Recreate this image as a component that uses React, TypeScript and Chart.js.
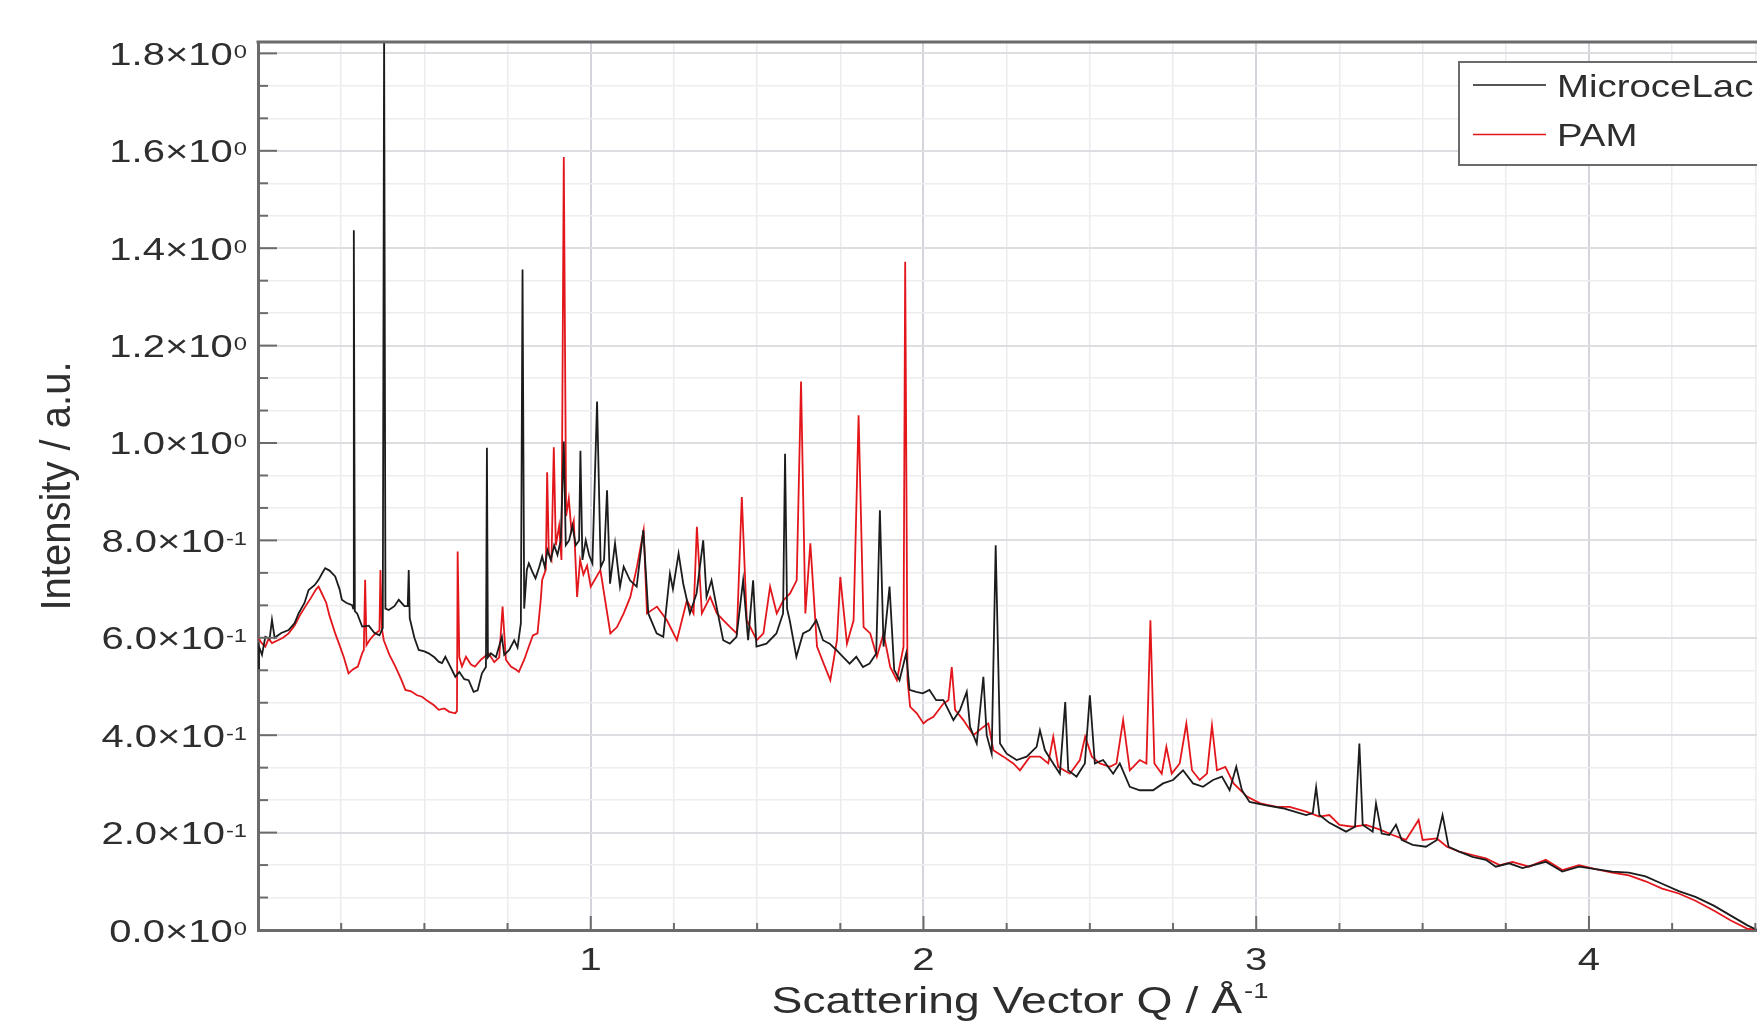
import React, { useEffect, useRef } from 'react';
import { Chart, registerables } from 'chart.js';

Chart.register(...registerables);

// ---------------- data ----------------
const seriesNames = ['MicroceLac', 'PAM'];

const microQ = [
  0.000, 0.003, 0.012, 0.022, 0.035, 0.042, 0.050, 0.070, 0.092, 0.110, 0.122, 0.140, 0.152, 0.170, 0.182, 0.195,
  0.202, 0.215, 0.232, 0.245, 0.252, 0.265, 0.283, 0.286, 0.288, 0.291, 0.298, 0.313, 0.333, 0.350, 0.365, 0.375,
  0.379, 0.383, 0.393, 0.410, 0.423, 0.440, 0.450, 0.453, 0.456, 0.470, 0.483, 0.500, 0.513, 0.530, 0.543, 0.553,
  0.563, 0.575, 0.593, 0.605, 0.620, 0.633, 0.648, 0.660, 0.673, 0.685, 0.688, 0.691, 0.700, 0.715, 0.733, 0.740,
  0.755, 0.770, 0.780, 0.790, 0.795, 0.800, 0.808, 0.814, 0.825, 0.834, 0.845, 0.854, 0.862, 0.870, 0.880, 0.890,
  0.900, 0.910, 0.919, 0.925, 0.935, 0.945, 0.955, 0.965, 0.969, 0.975, 0.985, 0.995, 1.005, 1.019, 1.030, 1.040,
  1.049, 1.058, 1.073, 1.088, 1.099, 1.118, 1.138, 1.158, 1.173, 1.198, 1.218, 1.238, 1.247, 1.264, 1.278, 1.298,
  1.318, 1.338, 1.348, 1.363, 1.378, 1.398, 1.418, 1.438, 1.458, 1.473, 1.488, 1.498, 1.528, 1.558, 1.578, 1.584,
  1.590, 1.598, 1.618, 1.638, 1.658, 1.678, 1.698, 1.718, 1.738, 1.758, 1.778, 1.798, 1.818, 1.838, 1.858, 1.869,
  1.880, 1.898, 1.912, 1.928, 1.948, 1.958, 1.978, 1.998, 2.018, 2.038, 2.060, 2.090, 2.110, 2.130, 2.140, 2.160,
  2.180, 2.190, 2.205, 2.217, 2.230, 2.250, 2.280, 2.310, 2.340, 2.350, 2.365, 2.390, 2.410, 2.426, 2.435, 2.460,
  2.485, 2.500, 2.515, 2.540, 2.570, 2.590, 2.620, 2.650, 2.690, 2.720, 2.750, 2.780, 2.810, 2.840, 2.870, 2.897,
  2.920, 2.940, 2.957, 2.980, 3.030, 3.080, 3.100, 3.150, 3.170, 3.180, 3.190, 3.220, 3.270, 3.297, 3.310, 3.320,
  3.350, 3.360, 3.377, 3.400, 3.420, 3.437, 3.470, 3.510, 3.543, 3.560, 3.578, 3.610, 3.650, 3.690, 3.720, 3.760,
  3.800, 3.870, 3.920, 3.970, 4.020, 4.070, 4.120, 4.170, 4.220, 4.270, 4.320, 4.375, 4.425, 4.475, 4.505,
];
const microI = [
  0.534, 0.582, 0.565, 0.602, 0.598, 0.637, 0.600, 0.610, 0.616, 0.630, 0.650, 0.672, 0.698, 0.708, 0.719, 0.735,
  0.743, 0.738, 0.726, 0.700, 0.678, 0.672, 0.667, 0.660, 1.437, 0.655, 0.650, 0.623, 0.625, 0.610, 0.605, 0.620,
  1.850, 0.660, 0.657, 0.665, 0.678, 0.665, 0.665, 0.739, 0.640, 0.600, 0.575, 0.572, 0.568, 0.560, 0.551, 0.548,
  0.561, 0.545, 0.520, 0.530, 0.515, 0.513, 0.489, 0.492, 0.527, 0.540, 0.990, 0.560, 0.568, 0.560, 0.602, 0.565,
  0.575, 0.595, 0.580, 0.630, 1.356, 0.660, 0.740, 0.753, 0.735, 0.722, 0.745, 0.767, 0.745, 0.780, 0.760, 0.790,
  0.770, 0.800, 1.003, 0.790, 0.800, 0.830, 0.790, 0.800, 0.984, 0.760, 0.800, 0.770, 0.753, 1.085, 0.745, 0.760,
  0.903, 0.711, 0.794, 0.705, 0.746, 0.718, 0.705, 0.821, 0.650, 0.609, 0.602, 0.732, 0.700, 0.773, 0.711, 0.650,
  0.691, 0.800, 0.684, 0.718, 0.664, 0.595, 0.588, 0.602, 0.718, 0.595, 0.718, 0.582, 0.588, 0.609, 0.650, 0.978,
  0.660, 0.636, 0.561, 0.609, 0.616, 0.636, 0.595, 0.588, 0.575, 0.561, 0.547, 0.561, 0.540, 0.547, 0.568, 0.862,
  0.582, 0.705, 0.534, 0.513, 0.568, 0.493, 0.489, 0.486, 0.493, 0.472, 0.472, 0.431, 0.452, 0.489, 0.417, 0.383,
  0.520, 0.400, 0.362, 0.790, 0.383, 0.362, 0.349, 0.356, 0.376, 0.410, 0.369, 0.342, 0.321, 0.468, 0.328, 0.315,
  0.342, 0.482, 0.342, 0.349, 0.321, 0.342, 0.294, 0.287, 0.287, 0.301, 0.308, 0.328, 0.301, 0.294, 0.308, 0.315,
  0.287, 0.335, 0.287, 0.263, 0.256, 0.250, 0.246, 0.236, 0.240, 0.293, 0.236, 0.220, 0.202, 0.212, 0.383, 0.216,
  0.202, 0.260, 0.198, 0.195, 0.216, 0.185, 0.175, 0.171, 0.185, 0.236, 0.171, 0.161, 0.150, 0.144, 0.130, 0.137,
  0.127, 0.140, 0.120, 0.130, 0.125, 0.120, 0.118, 0.110, 0.095, 0.080, 0.068, 0.050, 0.030, 0.010, 0.000,
];

const pamQ = [
  0.000, 0.010, 0.022, 0.032, 0.042, 0.060, 0.075, 0.092, 0.110, 0.125, 0.142, 0.160, 0.175, 0.182, 0.192, 0.205,
  0.215, 0.232, 0.245, 0.258, 0.272, 0.285, 0.300, 0.313, 0.318, 0.322, 0.326, 0.335, 0.343, 0.355, 0.365, 0.368,
  0.372, 0.378, 0.395, 0.413, 0.430, 0.443, 0.460, 0.478, 0.493, 0.510, 0.528, 0.543, 0.560, 0.575, 0.593, 0.598,
  0.600, 0.605, 0.613, 0.625, 0.640, 0.652, 0.670, 0.693, 0.710, 0.725, 0.735, 0.745, 0.760, 0.775, 0.784, 0.800,
  0.814, 0.826, 0.840, 0.850, 0.854, 0.865, 0.869, 0.874, 0.882, 0.889, 0.895, 0.905, 0.912, 0.919, 0.926, 0.934,
  0.942, 0.949, 0.959, 0.968, 0.978, 0.989, 1.000, 1.029, 1.059, 1.079, 1.099, 1.119, 1.139, 1.159, 1.169, 1.199,
  1.229, 1.259, 1.289, 1.309, 1.319, 1.334, 1.359, 1.379, 1.399, 1.419, 1.439, 1.454, 1.469, 1.499, 1.519, 1.539,
  1.559, 1.579, 1.599, 1.619, 1.632, 1.645, 1.660, 1.680, 1.700, 1.720, 1.740, 1.750, 1.770, 1.790, 1.805, 1.820,
  1.840, 1.860, 1.880, 1.900, 1.920, 1.940, 1.945, 1.952, 1.960, 1.980, 2.000, 2.010, 2.030, 2.060, 2.075, 2.085,
  2.095, 2.120, 2.150, 2.180, 2.195, 2.210, 2.240, 2.270, 2.290, 2.320, 2.350, 2.375, 2.390, 2.405, 2.440, 2.470,
  2.486, 2.506, 2.530, 2.560, 2.580, 2.600, 2.620, 2.650, 2.670, 2.682, 2.694, 2.716, 2.730, 2.746, 2.770, 2.790,
  2.807, 2.830, 2.852, 2.867, 2.882, 2.907, 2.932, 2.972, 3.012, 3.062, 3.100, 3.150, 3.190, 3.220, 3.250, 3.290,
  3.330, 3.372, 3.410, 3.450, 3.488, 3.500, 3.543, 3.573, 3.610, 3.650, 3.690, 3.733, 3.770, 3.820, 3.870, 3.920,
  3.970, 4.020, 4.070, 4.120, 4.170, 4.220, 4.270, 4.320, 4.375, 4.425, 4.475, 4.505,
];
const pamI = [
  0.602, 0.590, 0.582, 0.598, 0.589, 0.595, 0.600, 0.609, 0.625, 0.645, 0.664, 0.683, 0.700, 0.705, 0.691, 0.672,
  0.645, 0.609, 0.585, 0.560, 0.527, 0.535, 0.541, 0.568, 0.575, 0.719, 0.585, 0.595, 0.602, 0.610, 0.615, 0.739,
  0.620, 0.595, 0.565, 0.541, 0.515, 0.493, 0.490, 0.482, 0.479, 0.470, 0.462, 0.452, 0.455, 0.448, 0.445, 0.450,
  0.777, 0.560, 0.541, 0.561, 0.545, 0.541, 0.555, 0.568, 0.550, 0.560, 0.664, 0.555, 0.541, 0.535, 0.530, 0.555,
  0.582, 0.605, 0.609, 0.680, 0.719, 0.740, 0.940, 0.773, 0.760, 0.991, 0.790, 0.830, 0.760, 1.587, 0.850, 0.886,
  0.820, 0.840, 0.684, 0.760, 0.730, 0.748, 0.705, 0.739, 0.609, 0.622, 0.650, 0.684, 0.746, 0.821, 0.650, 0.664,
  0.636, 0.595, 0.677, 0.650, 0.828, 0.650, 0.684, 0.650, 0.636, 0.622, 0.609, 0.889, 0.636, 0.595, 0.609, 0.705,
  0.650, 0.677, 0.691, 0.718, 1.126, 0.650, 0.794, 0.582, 0.547, 0.513, 0.595, 0.725, 0.588, 0.636, 1.057, 0.622,
  0.609, 0.561, 0.609, 0.540, 0.513, 0.582, 1.372, 0.513, 0.458, 0.445, 0.424, 0.430, 0.438, 0.465, 0.472, 0.540,
  0.452, 0.431, 0.400, 0.417, 0.424, 0.369, 0.356, 0.342, 0.328, 0.356, 0.356, 0.342, 0.397, 0.335, 0.321, 0.349,
  0.397, 0.356, 0.342, 0.335, 0.342, 0.431, 0.328, 0.349, 0.342, 0.636, 0.342, 0.321, 0.376, 0.321, 0.342, 0.424,
  0.328, 0.308, 0.321, 0.420, 0.328, 0.335, 0.301, 0.274, 0.260, 0.253, 0.253, 0.243, 0.233, 0.236, 0.216, 0.212,
  0.216, 0.206, 0.195, 0.185, 0.226, 0.185, 0.188, 0.171, 0.161, 0.154, 0.147, 0.133, 0.140, 0.130, 0.144, 0.123,
  0.133, 0.125, 0.118, 0.112, 0.100, 0.085, 0.075, 0.060, 0.040, 0.020, 0.003, 0.000,
];

const xTickValues = [1, 2, 3, 4];
const xTickLabels = ['1', '2', '3', '4'];
const yTickValues = [0, 0.2, 0.4, 0.6, 0.8, 1.0, 1.2, 1.4, 1.6, 1.8];
const yTickMantissas = ['0.0', '2.0', '4.0', '6.0', '8.0', '1.0', '1.2', '1.4', '1.6', '1.8'];
const yTickExponents = ['0', '-1', '-1', '-1', '-1', '0', '0', '0', '0', '0'];
const xTitle = 'Scattering Vector Q / Å';
const xTitleSup = '-1';
const yTitle = 'Intensity / a.u.';

// ---------------- styling ----------------
const FONT = '"Liberation Sans", Arial, Helvetica, sans-serif';
const TEXT = '#2e2e2e';
const AXIS = '#6b6b6b';
const BLACK = '#1c1c1c';
const RED = '#e3161b';
const X_MIN = 0;
const X_MAX = 4.505;
const Y_MIN = 0;
const Y_MAX = 1.8234;
const SX = 1.25; // horizontal stretch of the reference typography

function drawText(ctx: CanvasRenderingContext2D, text: string, x: number, y: number, size: number, sx: number, align: 'left' | 'center' | 'right') {
  ctx.save();
  ctx.font = `${size}px ${FONT}`;
  ctx.textBaseline = 'alphabetic';
  ctx.textAlign = 'left';
  const w = ctx.measureText(text).width * sx;
  let x0 = x;
  if (align === 'right') x0 = x - w;
  else if (align === 'center') x0 = x - w / 2;
  ctx.translate(x0, y);
  ctx.scale(sx, 1);
  ctx.fillStyle = TEXT;
  ctx.fillText(text, 0, 0);
  ctx.restore();
  return w;
}

function textWidth(ctx: CanvasRenderingContext2D, text: string, size: number, sx: number) {
  ctx.save();
  ctx.font = `${size}px ${FONT}`;
  const w = ctx.measureText(text).width * sx;
  ctx.restore();
  return w;
}

const isMajorX = (v: number) => Math.abs(v - Math.round(v)) < 1e-6;
const isMajorY = (v: number) => Math.abs(v * 5 - Math.round(v * 5)) < 1e-6;

const decorPlugin = {
  id: 'decor',
  afterDraw(chart: any) {
    const { ctx, chartArea, scales } = chart;
    const xs = scales.x;
    const ys = scales.y;
    const { left, right, top, bottom } = chartArea;

    ctx.save();
    // top frame line
    ctx.strokeStyle = AXIS;
    ctx.lineWidth = 3;
    ctx.beginPath();
    ctx.moveTo(left - 1.5, top);
    ctx.lineTo(right, top);
    ctx.stroke();

    // inward ticks
    ctx.lineWidth = 2;
    ctx.strokeStyle = AXIS;
    for (const t of xs.ticks) {
      const v = t.value;
      if (v <= X_MIN + 1e-9) continue;
      const px = xs.getPixelForValue(v);
      const len = isMajorX(v) ? 14 : 7;
      ctx.beginPath();
      ctx.moveTo(px, bottom);
      ctx.lineTo(px, bottom - len);
      ctx.stroke();
    }
    for (const t of ys.ticks) {
      const v = t.value;
      if (v <= Y_MIN + 1e-9) continue;
      const py = ys.getPixelForValue(v);
      const len = isMajorY(v) ? 19 : 10;
      ctx.beginPath();
      ctx.moveTo(left, py);
      ctx.lineTo(left + len, py);
      ctx.stroke();
    }

    // y tick labels with superscript exponent
    const labRight = 247;
    yTickValues.forEach((v, i) => {
      const py = ys.getPixelForValue(v);
      const base = py + 11.5;
      const ew = textWidth(ctx, yTickExponents[i], 19, SX);
      drawText(ctx, yTickExponents[i], labRight, base - 7, 19, SX, 'right');
      drawText(ctx, yTickMantissas[i] + '×10', labRight - ew - 1, base, 32, SX, 'right');
    });

    // x tick labels
    xTickValues.forEach((v, i) => {
      const px = xs.getPixelForValue(v);
      drawText(ctx, xTickLabels[i], px, 970, 32, SX, 'center');
    });

    // x title
    const tw = textWidth(ctx, xTitle, 37, SX);
    const sw = textWidth(ctx, xTitleSup, 22, SX);
    const tx = 1020 - (tw + sw + 2) / 2;
    drawText(ctx, xTitle, tx, 1013, 37, SX, 'left');
    drawText(ctx, xTitleSup, tx + tw + 2, 998, 22, SX, 'left');

    // y title (rotated)
    ctx.save();
    ctx.translate(70, 486);
    ctx.rotate(-Math.PI / 2);
    ctx.scale(1, 1.05);
    ctx.font = `40px ${FONT}`;
    ctx.textAlign = 'center';
    ctx.textBaseline = 'alphabetic';
    ctx.fillStyle = TEXT;
    ctx.fillText(yTitle, 0, 0);
    ctx.restore();

    // legend
    const lx = 1459, ly = 62, lw = 320, lh = 103;
    ctx.fillStyle = '#ffffff';
    ctx.fillRect(lx, ly, lw, lh);
    ctx.strokeStyle = AXIS;
    ctx.lineWidth = 2;
    ctx.strokeRect(lx, ly, lw, lh);
    const rows = [85, 134.5];
    const cols = [BLACK, RED];
    seriesNames.forEach((name, i) => {
      ctx.strokeStyle = cols[i];
      ctx.lineWidth = 1.6;
      ctx.beginPath();
      ctx.moveTo(1473, rows[i]);
      ctx.lineTo(1546, rows[i]);
      ctx.stroke();
      drawText(ctx, name, 1557, rows[i] + 11.5, 32, 1.2, 'left');
    });
    ctx.restore();
  },
};

export default function App() {
  const ref = useRef<HTMLCanvasElement | null>(null);

  useEffect(() => {
    document.body.style.margin = '0';
    document.body.style.overflow = 'hidden';
    const canvas = ref.current;
    if (!canvas) return;
    const microData = microQ.map((q, i) => ({ x: q, y: microI[i] }));
    const pamData = pamQ.map((q, i) => ({ x: q, y: pamI[i] }));

    const chart = new Chart(canvas, {
      type: 'line',
      data: {
        datasets: [
          {
            label: seriesNames[0],
            data: microData,
            borderColor: BLACK,
            borderWidth: 1.8,
            pointRadius: 0,
            tension: 0,
            fill: false,
          },
          {
            label: seriesNames[1],
            data: pamData,
            borderColor: RED,
            borderWidth: 1.8,
            pointRadius: 0,
            tension: 0,
            fill: false,
          },
        ],
      },
      options: {
        animation: false,
        responsive: false,
        devicePixelRatio: 1,
        parsing: true,
        layout: { padding: { top: 42, left: 0, right: 0, bottom: 0 } },
        plugins: { legend: { display: false }, tooltip: { enabled: false }, title: { display: false } },
        scales: {
          x: {
            type: 'linear',
            min: X_MIN,
            max: X_MAX,
            afterBuildTicks: (s: any) => {
              const t = [];
              for (let k = 0; k <= 18; k++) t.push({ value: k * 0.25 });
              s.ticks = t;
            },
            afterFit: (s: any) => {
              s.height = 98;
            },
            ticks: { display: false },
            grid: {
              drawTicks: false,
              color: (c: any) => (isMajorX(c.tick.value) ? '#d3d4dc' : '#ececef'),
              lineWidth: (c: any) => (isMajorX(c.tick.value) ? 2 : 1.5),
            },
            border: { display: true, color: AXIS, width: 3 },
          },
          y: {
            type: 'linear',
            min: Y_MIN,
            max: Y_MAX,
            afterBuildTicks: (s: any) => {
              const t = [];
              for (let k = 0; k <= 27; k++) t.push({ value: (k * 0.2) / 3 });
              s.ticks = t;
            },
            afterFit: (s: any) => {
              s.width = 258;
            },
            ticks: { display: false },
            grid: {
              drawTicks: false,
              color: (c: any) => (isMajorY(c.tick.value) ? '#dedee2' : '#ededf0'),
              lineWidth: (c: any) => (isMajorY(c.tick.value) ? 2 : 1.5),
            },
            border: { display: true, color: AXIS, width: 3 },
          },
        },
      },
      plugins: [decorPlugin],
    } as any);

    return () => {
      chart.destroy();
    };
  }, []);

  return (
    <div style={{ width: 1757, height: 1028, background: '#ffffff' }}>
      <canvas ref={ref} width={1757} height={1028} style={{ display: 'block', width: 1757, height: 1028 }} />
    </div>
  );
}
